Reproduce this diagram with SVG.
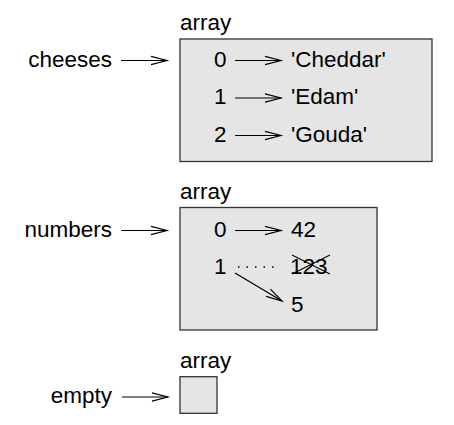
<svg xmlns="http://www.w3.org/2000/svg" width="454" height="425" viewBox="0 0 454 425">
<defs>
<marker id="ah" markerUnits="userSpaceOnUse" markerWidth="18" markerHeight="12" refX="16" refY="6" orient="auto" overflow="visible">
<path d="M0,1.8 L16,6 L0,10.2" fill="none" stroke="#000" stroke-width="1.2"/>
</marker>
<style>
text{font-family:"Liberation Sans",Arial,Helvetica,sans-serif;font-size:22.5px;fill:#000}
.box{fill:#e5e5e5;stroke:#333;stroke-width:1.3}
.arr{stroke:#000;stroke-width:1.2;fill:none;marker-end:url(#ah)}
.lbl{text-anchor:end}
</style>
</defs>
<rect width="454" height="425" fill="#fff"/>
<g id="cheeses-array">
<text x="180" y="30">array</text>
<rect class="box" x="180" y="39" width="252" height="122.5"/>
<text x="214" y="66.5">0</text>
<text x="214" y="104">1</text>
<text x="214" y="141.5">2</text>
<text x="291" y="66.5">'Cheddar'</text>
<text x="291" y="104">'Edam'</text>
<text x="291" y="141.5">'Gouda'</text>
</g>
<g id="cheeses"><text class="lbl" x="112" y="66.5">cheeses</text></g>
<g id="numbers-array">
<text x="180" y="198.5">array</text>
<rect class="box" x="180" y="207.5" width="197" height="122.5"/>
<text x="214" y="236.5">0</text>
<text x="214" y="274">1</text>
<text x="291" y="236.5">42</text>
<text x="290" y="274">123</text>
<path d="M292,255 L330,274 M292,274 L330,255" stroke="#000" stroke-width="1.1" fill="none"/>
<text x="291" y="311.5">5</text>
</g>
<g id="numbers"><text class="lbl" x="112" y="236.5">numbers</text></g>
<g id="empty-array">
<text x="180" y="367.5">array</text>
<rect class="box" x="180" y="376.7" width="37" height="36.6"/>
</g>
<g id="empty"><text class="lbl" x="112" y="403">empty</text></g>
<g id="connectors">
<line class="arr" x1="121" y1="60.5" x2="167" y2="60.5"/>
<line class="arr" x1="235" y1="60.5" x2="281" y2="60.5"/>
<line class="arr" x1="235" y1="98" x2="281" y2="98"/>
<line class="arr" x1="235" y1="135.5" x2="281" y2="135.5"/>
<line class="arr" x1="121" y1="230.5" x2="167" y2="230.5"/>
<line class="arr" x1="235" y1="230.5" x2="281" y2="230.5"/>
<line x1="238" y1="267" x2="280" y2="267" stroke="#000" stroke-width="1.3" stroke-dasharray="1.5 7"/>
<line class="arr" x1="235" y1="273" x2="282" y2="301"/>
<line class="arr" x1="122" y1="397" x2="168" y2="397"/>
</g>
</svg>
